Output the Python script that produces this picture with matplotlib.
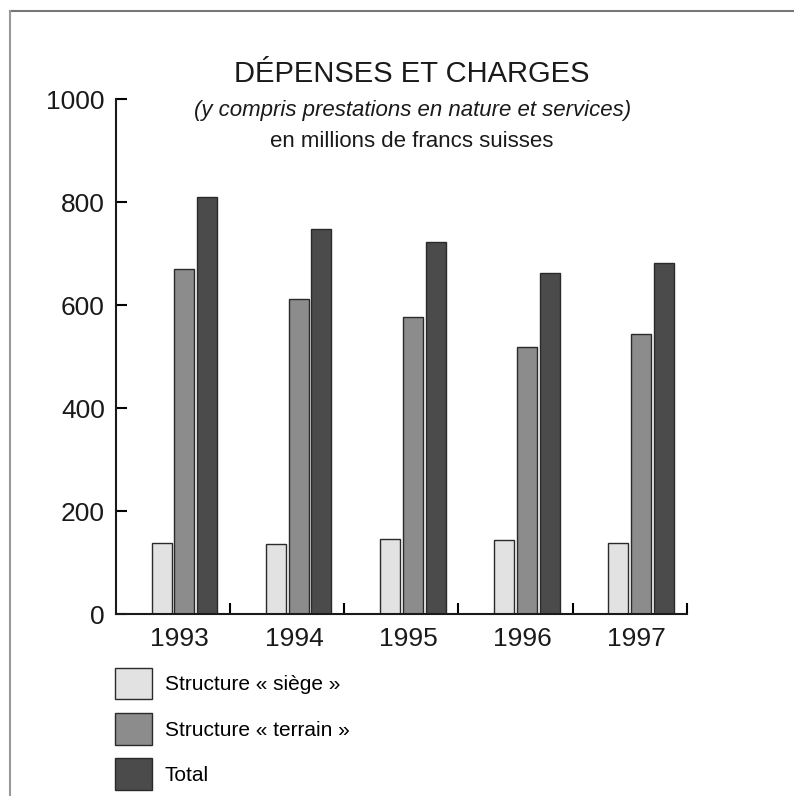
import matplotlib.pyplot as plt
from matplotlib.lines import Line2D
import numpy as np

# === Data ===
years = ['1993', '1994', '1995', '1996', '1997']
siege = [138, 136, 146, 144, 137]
terrain = [670, 612, 577, 518, 544]
total = [810, 748, 723, 662, 682]
series_labels = ['Structure « siège »', 'Structure « terrain »', 'Total']
colors = ['#e2e2e2', '#8c8c8c', '#4b4b4b']

plt.rcParams['font.family'] = ['Liberation Sans', 'DejaVu Sans']

fig = plt.figure(figsize=(7.94, 7.96), dpi=100)
ax = fig.add_axes([0.146, 0.2286, 0.719, 0.647])

x = np.arange(len(years))
width = 0.175
bars = []
for off, vals, col, lab in zip([-0.1, 0.1, 0.3], [siege, terrain, total], colors, series_labels):
    b = ax.bar(x + off, vals, width, color=col, edgecolor='#2a2a2a', linewidth=1.0, label=lab)
    bars.append(b)

ax.set_xlim(-0.5, 4.5)
ax.set_ylim(0, 1000)
ax.set_yticks([0, 200, 400, 600, 800, 1000])
ax.tick_params(axis='y', direction='in', length=8, width=1.5, labelsize=19, pad=8,
               labelcolor='#1a1a1a')

# group separators as upward ticks, year labels without ticks
ax.set_xticks([0.5, 1.5, 2.5, 3.5, 4.5])
ax.set_xticklabels([])
ax.tick_params(axis='x', direction='in', length=8, width=1.5)
ax.set_xticks(x + 0.06, minor=True)
ax.set_xticklabels(years, minor=True)
ax.tick_params(axis='x', which='minor', length=0, labelsize=19, pad=9, labelcolor='#1a1a1a')

for s in ['top', 'right']:
    ax.spines[s].set_visible(False)
for s in ['left', 'bottom']:
    ax.spines[s].set_linewidth(1.5)
    ax.spines[s].set_color('#1a1a1a')

# === Titles ===
fig.text(0.519, 0.907, 'DÉPENSES ET CHARGES', ha='center', va='center',
         fontsize=21, color='#1a1a1a')
fig.text(0.519, 0.861, '(y compris prestations en nature et services)', ha='center', va='center',
         fontsize=16, style='italic', color='#1a1a1a')
fig.text(0.519, 0.822, 'en millions de francs suisses', ha='center', va='center',
         fontsize=16, color='#1a1a1a')

# === Legend ===
fig.legend(handles=bars, labels=series_labels, loc='upper left',
           bbox_to_anchor=(0.145, 0.161), frameon=False, borderpad=0, borderaxespad=0,
           prop={'size': 15}, handlelength=1.79, handleheight=1.95,
           labelspacing=0.66, handletextpad=0.6)

# === Page frame ===
fig.add_artist(Line2D([0.0126, 1.0], [0.986, 0.986], transform=fig.transFigure,
                      color='#777777', linewidth=1.5))
fig.add_artist(Line2D([0.0126, 0.0126], [0.0, 0.986], transform=fig.transFigure,
                      color='#999999', linewidth=1.5))

fig.savefig('out.png', dpi=100, facecolor='white')
